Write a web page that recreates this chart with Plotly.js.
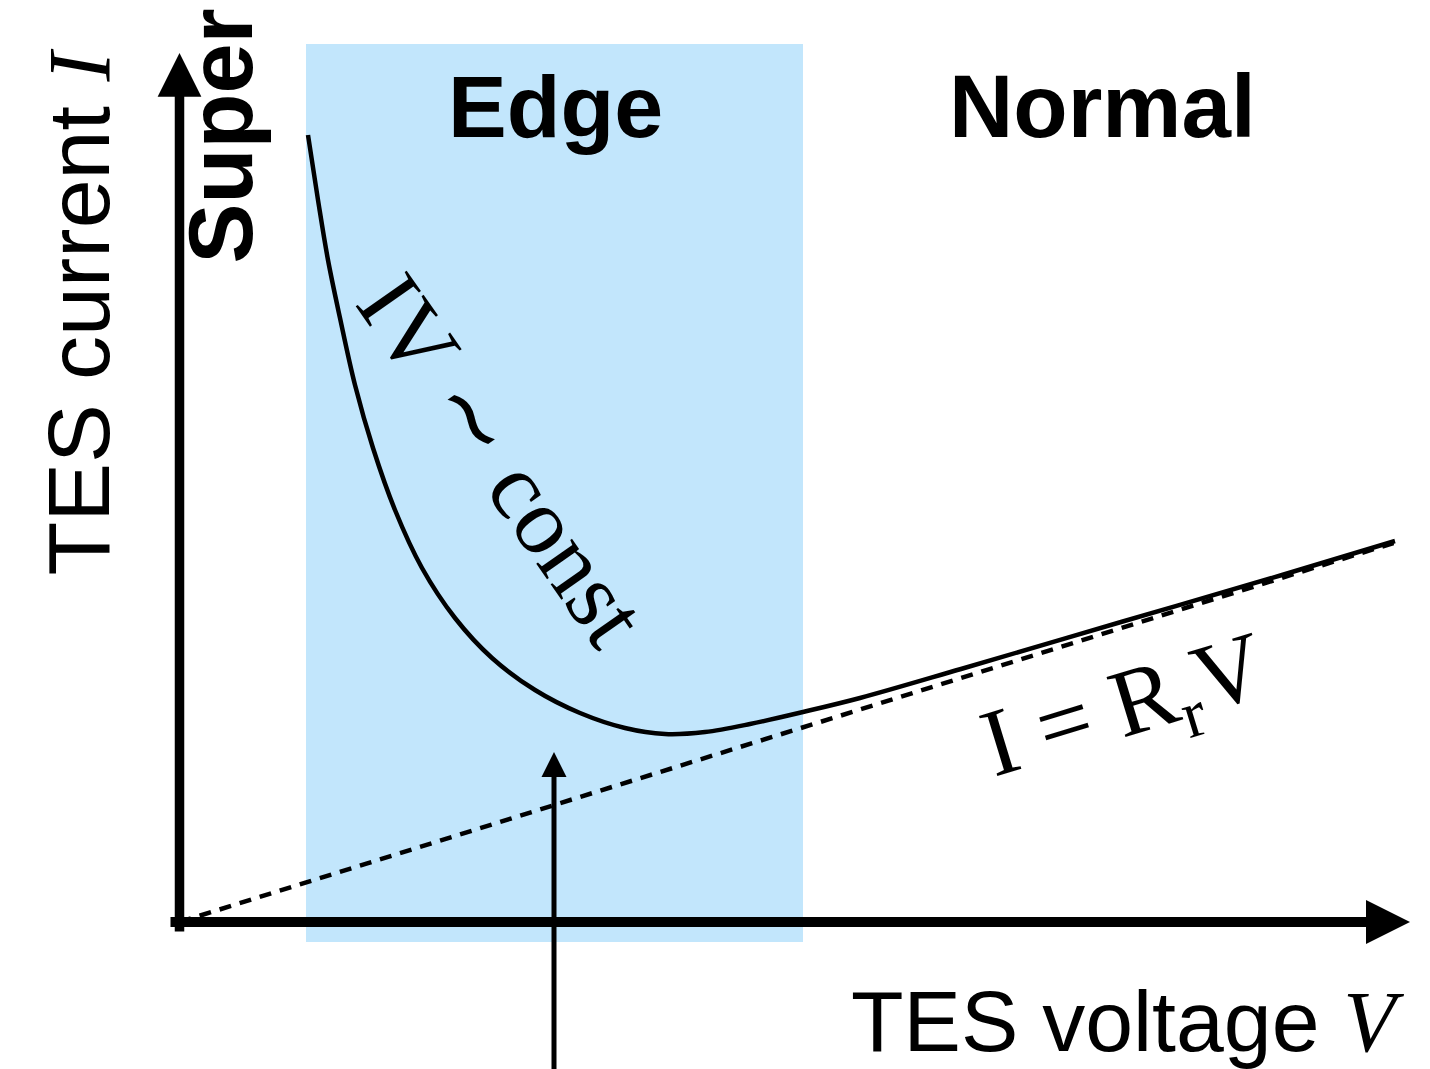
<!DOCTYPE html>
<html>
<head>
<meta charset="utf-8">
<script src="https://cdn.plot.ly/plotly-3.0.1.min.js"></script>
<style>
  html, body { margin: 0; padding: 0; background: #fff; overflow: hidden; }
  #chart { width: 1430px; height: 1069px; }
</style>
</head>
<body>
<div id="chart"></div>
<script>
// TES current-voltage characteristic (arbitrary units)
const tesV = [1.285, 1.385, 1.485, 1.605, 1.755, 1.935, 2.155, 2.425, 2.755, 3.125, 3.555, 4.005, 4.455, 4.855, 5.255, 5.705, 6.235, 6.805, 7.815, 9.415, 11.025, 12.155];
const tesI = [7.87, 7.22, 6.62, 6.04, 5.37, 4.74, 4.12, 3.54, 3.04, 2.64, 2.32, 2.09, 1.94, 1.88, 1.90, 1.98, 2.10, 2.24, 2.53, 3.00, 3.47, 3.81];

// Ohmic (normal-state) asymptote through the origin
const ohmV = [0, 12.14];
const ohmI = [0, 3.79];

// Transition-edge band (voltage range) and its vertical extent
const edgeV = [1.265, 6.235];
const edgeI = [-0.20, 8.78];

// Bias point marker
const biasV = 3.745;
const biasTipI = 1.70;

// Axis arrow extents
const axisVStart = -0.105, axisVEnd = 12.305;
const axisIStart = -0.11, axisIEnd = 8.69;

const regionLabels = ['Super', 'Edge', 'Normal'];

const SANS = 'Liberation Sans, Arial, sans-serif';
const SERIF = 'Liberation Serif, Times New Roman, serif';

const traces = [
  {
    x: ohmV, y: ohmI, type: 'scatter', mode: 'lines',
    line: { color: '#000', width: 4.5, dash: '12px,9px' },
    hoverinfo: 'skip'
  },
  {
    x: tesV, y: tesI, type: 'scatter', mode: 'lines',
    line: { color: '#000', width: 4.5, shape: 'spline', smoothing: 1 },
    hoverinfo: 'skip'
  }
];

function arrow(x, y, ax, ay, width, size) {
  return {
    x: x, y: y, ax: ax, ay: ay,
    xref: 'x', yref: 'y', axref: 'x', ayref: 'y',
    text: '', showarrow: true, arrowhead: 2,
    arrowwidth: width, arrowsize: size, arrowcolor: '#000',
    standoff: 0, startstandoff: 0, font: { size: 1 }
  };
}

const annotations = [
  arrow(axisVEnd, 0, axisVStart, 0, 10, 0.88),
  arrow(0, axisIEnd, 0, axisIStart, 9.5, 0.92),
  arrow(biasV, biasTipI, biasV, -1.8, 5, 1.0),
  {
    x: 3.755, y: 8.16, xref: 'x', yref: 'y', showarrow: false,
    text: '<b>' + regionLabels[1] + '</b>',
    font: { family: SANS, size: 88, color: '#000' },
    xanchor: 'center', yanchor: 'middle'
  },
  {
    x: 9.23, y: 8.16, xref: 'x', yref: 'y', showarrow: false,
    text: '<b>' + regionLabels[2] + '</b>',
    font: { family: SANS, size: 89, color: '#000' },
    xanchor: 'center', yanchor: 'middle'
  },
  {
    x: 0.41, y: 7.86, xref: 'x', yref: 'y', showarrow: false,
    text: '<b>' + regionLabels[0] + '</b>', textangle: -90,
    font: { family: SANS, size: 90, color: '#000' },
    xanchor: 'center', yanchor: 'middle'
  },
  {
    x: -1.02, y: 6.10, xref: 'x', yref: 'y', showarrow: false,
    text: 'TES current <span style="font-family:' + SERIF + ';font-style:italic">I</span>',
    textangle: -90,
    font: { family: SANS, size: 88, color: '#000' },
    xanchor: 'center', yanchor: 'middle'
  },
  {
    x: 9.48, y: -0.99, xref: 'x', yref: 'y', showarrow: false,
    text: 'TES voltage <span style="font-family:' + SERIF + ';font-style:italic">V</span>',
    font: { family: SANS, size: 86, color: '#000' },
    xanchor: 'center', yanchor: 'middle'
  },
  {
    x: 3.23, y: 4.62, xref: 'x', yref: 'y', showarrow: false,
    text: 'IV ∼ const', textangle: 55,
    font: { family: SERIF, size: 95, color: '#000' },
    xanchor: 'center', yanchor: 'middle'
  },
  {
    x: 9.45, y: 2.12, xref: 'x', yref: 'y', showarrow: false,
    text: 'I = R<sub>r</sub>V', textangle: -17,
    font: { family: SERIF, size: 96, color: '#000' },
    xanchor: 'center', yanchor: 'middle'
  }
];

const layout = {
  width: 1430, height: 1069,
  margin: { l: 0, r: 0, t: 0, b: 0, pad: 0 },
  paper_bgcolor: '#fff', plot_bgcolor: '#fff',
  showlegend: false,
  xaxis: { range: [-1.795, 12.505], visible: false, fixedrange: true },
  yaxis: { range: [-1.47, 9.22], visible: false, fixedrange: true },
  shapes: [
    {
      type: 'rect', xref: 'x', yref: 'y', layer: 'below',
      x0: edgeV[0], x1: edgeV[1], y0: edgeI[0], y1: edgeI[1],
      fillcolor: '#c2e6fc', line: { width: 0 }
    }
  ],
  annotations: annotations
};

Plotly.newPlot('chart', traces, layout, { displayModeBar: false, staticPlot: true });
</script>
</body>
</html>
